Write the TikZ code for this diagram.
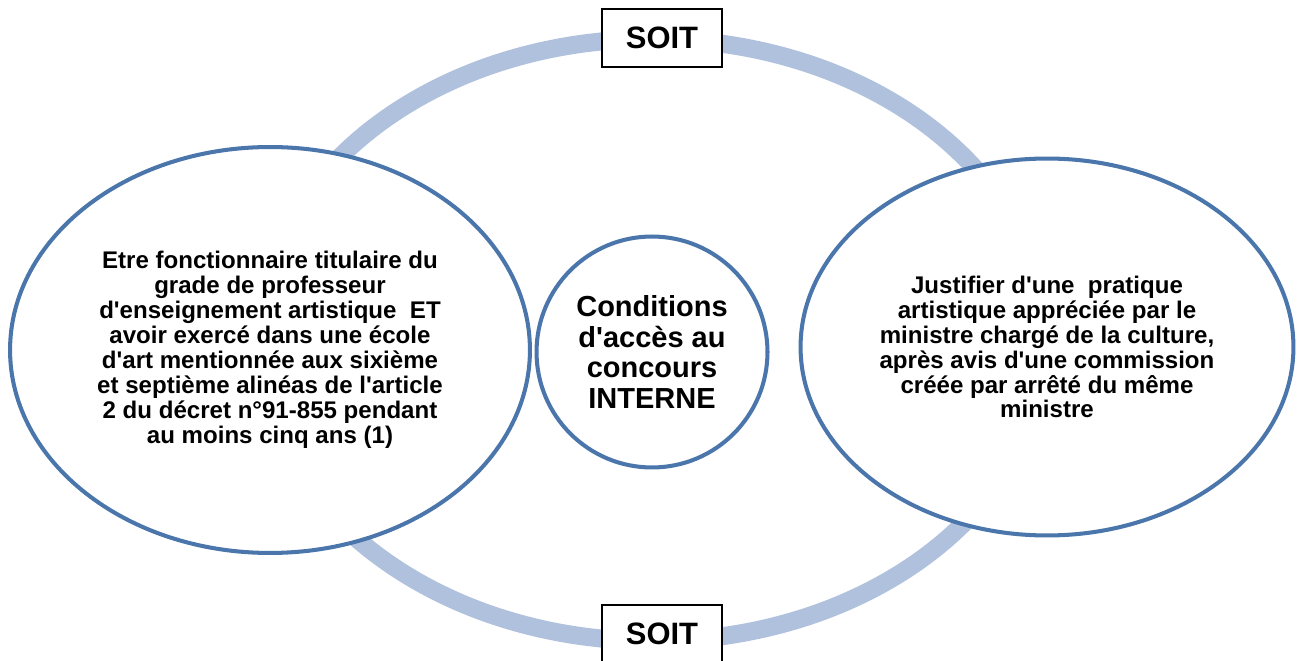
\documentclass[tikz,border=0pt]{standalone}
\usepackage{fontspec}
\setmainfont{Liberation Sans}[Ligatures=TeXOff]
\usepackage{tikz}
\usetikzlibrary{shapes.geometric}

\definecolor{ringblue}{RGB}{176,193,222}
\definecolor{edgeblue}{RGB}{74,118,172}
\lineskiplimit=-20pt

\begin{document}
\begin{tikzpicture}[x=0.02cm, y=-0.02cm,
  bubble/.style={ellipse, draw=edgeblue, line width=2.3pt, fill=white, inner sep=0pt, align=center,
    font=\bfseries\fontsize{13.7}{14.2}\selectfont},
  soitbox/.style={rectangle, draw=black, line width=0.6pt, fill=white, minimum width=2.4cm,
    minimum height=1.16cm, font=\bfseries\fontsize{17.6}{20}\selectfont}]

\useasboundingbox (0,0) rectangle (1297,661);

% the ring behind everything
\draw [ringblue, line width=0.36cm] (652,340) ellipse [x radius=393, y radius=301];

\node [bubble, minimum width=10.4cm, minimum height=8.12cm] (left) at (270,350)
  {Etre fonctionnaire titulaire du\\grade de professeur\\d'enseignement artistique~ ET\\avoir exercé dans une école\\d'art mentionnée aux sixième\\et septième alinéas de l'article\\2 du décret n°91-855 pendant\\au moins cinq ans (1)};
\node [bubble, minimum width=9.86cm, minimum height=7.54cm] (right) at (1047,347)
  {Justifier d'une~ pratique\\artistique appréciée par le\\ministre chargé de la culture,\\après avis d'une commission\\créée par arrêté du même\\ministre};
\node [bubble, circle, minimum size=4.62cm, font=\bfseries\fontsize{16.5}{17.4}\selectfont] (centre) at (652,352)
  {Conditions\\d'accès au\\concours\\INTERNE};

\node [soitbox] (soittop) at (662,38) {SOIT};
\node [soitbox] (soitbottom) at (662,634) {SOIT};

\end{tikzpicture}
\end{document}
